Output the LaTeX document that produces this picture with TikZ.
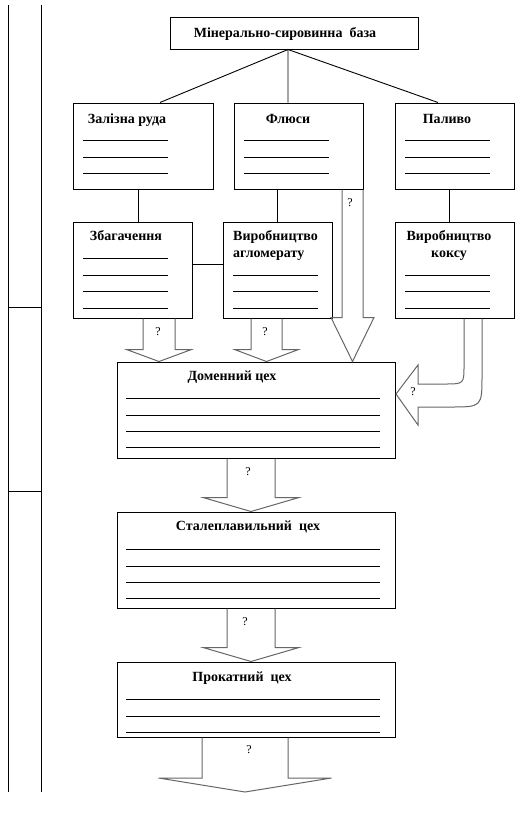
\documentclass[tikz,border=0pt]{standalone}
\usepackage{fontspec}
\setmainfont{Liberation Serif}
\usetikzlibrary{calc}
\tikzset{
  box/.style={draw, line width=1pt, inner sep=0pt},
  title/.style={font=\bfseries\fontsize{14}{17}\selectfont, inner sep=0pt, anchor=base},
  qmark/.style={font=\fontsize{12}{14}\selectfont, inner sep=0pt},
  blank/.style={line width=0.9pt},
  arrowline/.style={draw=black!60, line width=1pt, line join=miter},
}
% hollow arrow pointing down: x, from, to, half shaft, half head, head length
\newcommand{\hollowdown}[6]{%
  \draw[arrowline] let \p1=(#1,0 |- #2), \p2=(#1,0 |- #3) in
    (\x1-#4pt,\y1) -- (\x1-#4pt,\y2+#6pt) -- (\x1-#5pt,\y2+#6pt) -- (\x1,\y2)
    -- (\x1+#5pt,\y2+#6pt) -- (\x1+#4pt,\y2+#6pt) -- (\x1+#4pt,\y1);
}
\begin{document}
\begin{tikzpicture}[x=1pt,y=-1pt]
  \useasboundingbox (0,0) rectangle (522,817);
  % margin
  \draw[line width=1pt] (8,5) -- (8,792) (41,5) -- (41,792)
    (8,307) -- (41,307) (8,491) -- (41,491);

  % boxes
  \node[box, minimum width=248pt, minimum height=32pt] (base) at (294,33) {};
  \node[box, minimum width=140pt, minimum height=86pt] (ore) at (143,146) {};
  \node[box, minimum width=129pt, minimum height=86pt] (flux) at (298.5,146) {};
  \node[box, minimum width=119pt, minimum height=86pt] (fuel) at (454.5,146) {};
  \node[box, minimum width=119pt, minimum height=96pt] (enrich) at (132.5,270) {};
  \node[box, minimum width=109pt, minimum height=96pt] (sinter) at (277.5,270) {};
  \node[box, minimum width=119pt, minimum height=96pt] (coke) at (454.5,270) {};
  \node[box, minimum width=278pt, minimum height=96pt] (blast) at (256,410) {};
  \node[box, minimum width=278pt, minimum height=96pt] (steel) at (256,560) {};
  \node[box, minimum width=278pt, minimum height=75pt] (roll) at (256,699.5) {};

  % titles
  \node[title] (baset) at (285,37) {Мінерально-сировинна~ база};
  \node[title] (oret) at (127,123) {Залізна руда};
  \node[title] (fluxt) at (288,123) {Флюси};
  \node[title] (fuelt) at (447,123) {Паливо};
  \node[title] (enricht) at (126,240) {Збагачення};
  \node[title, anchor=base west, align=left] (sintert) at (233,257) {Виробництво\\агломерату};
  \node[title, align=center] (coket) at (449,257) {Виробництво\\коксу};
  \node[title] (blastt) at (232,380) {Доменний цех};
  \node[title] (steelt) at (248,530) {Сталеплавильний~ цех};
  \node[title] (rollt) at (242,681) {Прокатний~ цех};

  % blank lines
  \foreach \y in {140,157,173} {
    \draw[blank] (83,\y) -- (168,\y);
    \draw[blank] (244,\y) -- (329,\y);
    \draw[blank] (405,\y) -- (490,\y);
  }
  \foreach \y in {258,275,291,308} \draw[blank] (83,\y) -- (168,\y);
  \foreach \y in {275,291,308} {
    \draw[blank] (233,\y) -- (318,\y);
    \draw[blank] (405,\y) -- (490,\y);
  }
  \foreach \y in {398,415,431,447} \draw[blank] (126,\y) -- (380,\y);
  \foreach \y in {549,566,582,598} \draw[blank] (126,\y) -- (380,\y);
  \foreach \y in {699,716,732} \draw[blank] (126,\y) -- (380,\y);

  % connectors
  \draw[blank] ([xshift=17pt]ore.north) -- ([xshift=-6pt]base.south)
    -- ([xshift=-10.5pt]flux.north);
  \draw[blank] ([xshift=-6pt]base.south) -- ([xshift=-16.5pt]fuel.north);
  \draw[blank] ([xshift=-5pt]ore.south) -- ([xshift=-5pt]ore.south |- enrich.north);
  \draw[blank] (sinter.north) -- (sinter.north |- flux.south);
  \draw[blank] ([xshift=-5pt]coke.north) -- ([xshift=-5pt]coke.north |- fuel.south);
  \draw[blank] ([yshift=6pt]enrich.east) -- ([yshift=6pt]sinter.west);

  % hollow arrows
  \hollowdown{352.5}{flux.south}{blast.north}{10.5}{21.5}{44}
  \hollowdown{159}{enrich.south}{blast.north}{16}{32.5}{12}
  \hollowdown{266.5}{sinter.south}{blast.north}{15.5}{32}{12}
  \hollowdown{251}{blast.south}{steel.north}{24}{48}{14}
  \hollowdown{251}{steel.south}{roll.north}{24}{48}{14}
  \coordinate (out) at (245,792);
  \hollowdown{245}{roll.south}{out}{43}{86.5}{14}
  \draw[arrowline] (464,0 |- coke.south) -- (464,366) .. controls (464,384) .. (444,384)
    -- (418,384) -- (418,365) -- (396,394) -- (418,425) -- (418,407) -- (450,407)
    .. controls (482,407) .. (482,375) -- (482,0 |- coke.south);

  % question marks
  \node[qmark] (q1) at (350,203) {?};
  \node[qmark] (q2) at (158,332) {?};
  \node[qmark] (q3) at (265,332) {?};
  \node[qmark] (q4) at (413,392) {?};
  \node[qmark] (q5) at (248,472) {?};
  \node[qmark] (q6) at (245,622) {?};
  \node[qmark] (q7) at (249,750) {?};
\end{tikzpicture}
\end{document}
